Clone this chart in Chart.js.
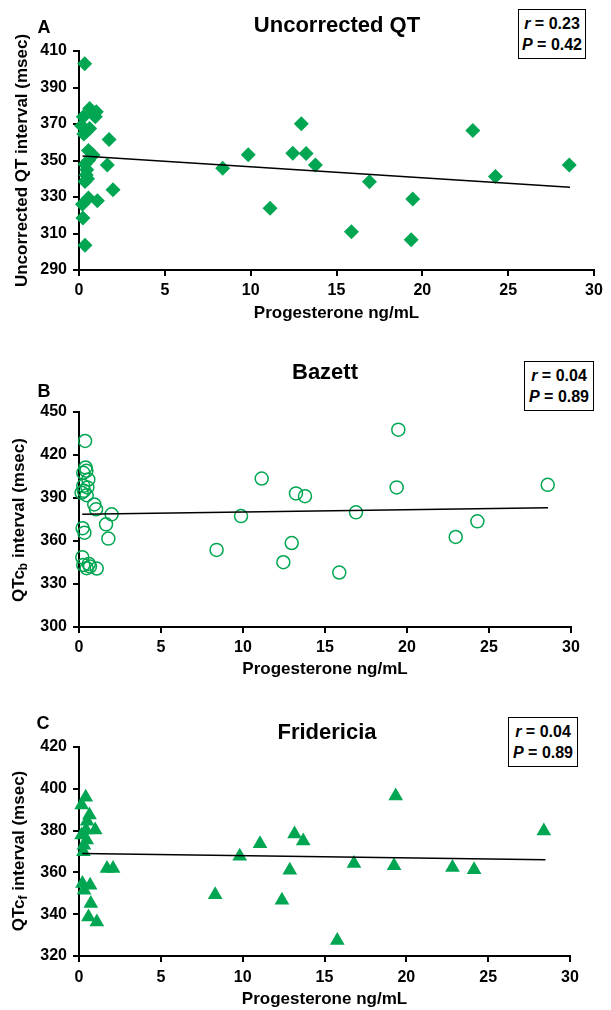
<!DOCTYPE html>
<html>
<head>
<meta charset="utf-8">
<script src="https://cdn.jsdelivr.net/npm/chart.js@4.4.1/dist/chart.umd.min.js"></script>
<style>
  body { margin: 0; background: #fff; font-family: "Liberation Sans", Arial, sans-serif; }
  #wrap { position: relative; width: 611px; height: 1010px; }
  canvas { position: absolute; left: 0; }
  .txt { position: absolute; font-weight: bold; color: #000; white-space: nowrap; z-index: 2; }
  .letter { font-size: 18px; transform: translate(-50%, -50%); }
  .ttl { font-size: 22px; transform: translate(-50%, -50%); }
  .box { position: absolute; border: 1.5px solid #000; box-sizing: border-box; font-weight: bold; font-size: 16px;
         line-height: 21px; text-align: center; display: flex; flex-direction: column; justify-content: center; z-index: 2; background: #fff; }
  .ytl { font-size: 17px; transform: translate(-50%, -50%) rotate(-90deg); }
  .ytl sub { font-size: 12px; vertical-align: -3px; }
</style>
</head>
<body>
<div id="wrap">
  <canvas id="cA" width="611" height="340" style="top:0"></canvas>
  <canvas id="cB" width="611" height="350" style="top:340px"></canvas>
  <canvas id="cC" width="611" height="320" style="top:690px"></canvas>

  <div class="txt letter" style="left:44px;top:27px">A</div>
  <div class="txt ttl" style="left:337px;top:25px">Uncorrected QT</div>
  <div class="box" style="left:518px;top:9px;width:68px;height:50px"><div><i>r</i> = 0.23</div><div><i>P</i> = 0.42</div></div>

  <div class="txt letter" style="left:44px;top:391px">B</div>
  <div class="txt ttl" style="left:325px;top:372px">Bazett</div>
  <div class="box" style="left:524px;top:361px;width:70px;height:50px"><div><i>r</i> = 0.04</div><div><i>P</i> = 0.89</div></div>
  <div class="txt ytl" style="left:19px;top:520px">QTc<sub>b</sub> interval (msec)</div>

  <div class="txt letter" style="left:43px;top:723px">C</div>
  <div class="txt ttl" style="left:327px;top:732px">Fridericia</div>
  <div class="box" style="left:508px;top:717px;width:70px;height:50px"><div><i>r</i> = 0.04</div><div><i>P</i> = 0.89</div></div>
  <div class="txt ytl" style="left:19px;top:851px">QTc<sub>f</sub> interval (msec)</div>
</div>
<script>
// progesterone (ng/mL) on x, interval (msec) on y
const progTicks = [0, 5, 10, 15, 20, 25, 30];
const qtTicks = [290, 310, 330, 350, 370, 390, 410];
const bazTicks = [300, 330, 360, 390, 420, 450];
const friTicks = [320, 340, 360, 380, 400, 420];

const qtX = [0.33, 0.62, 1.01, 0.95, 0.25, 0.15, 0.62, 0.45, 0.28, 1.75, 0.55, 0.82, 0.55, 0.35, 1.65, 0.45, 0.42, 0.5, 0.35, 1.98, 0.55, 1.07, 0.2, 0.23, 0.35,
             8.37, 9.86, 11.13, 12.45, 12.95, 13.23, 13.77, 15.87, 16.92, 19.35, 19.44, 22.94, 24.26, 28.56];
const qtY = [403, 378.5, 376.7, 374, 374, 369, 367.5, 366, 364.5, 361.5, 355.5, 353, 350, 348, 347.5, 345, 342, 340, 338.5, 334, 329.5, 328, 326, 318.5, 303.5,
             345.7, 353.1, 323.8, 354, 370.1, 353.9, 347.5, 311, 338.3, 306.6, 328.9, 366.4, 341.3, 347.5];
const qtFitX = [0.2, 28.6];
const qtFitY = [352.4, 335.3];

const bazX = [0.37, 0.4, 0.26, 0.45, 0.57, 0.26, 0.51, 0.16, 0.47, 0.3, 0.93, 1.04, 1.99, 1.65, 1.79, 0.22, 0.33, 0.2, 0.26, 0.67, 1.08, 0.47, 0.6,
              8.39, 9.88, 11.14, 12.46, 12.97, 13.23, 13.78, 15.87, 16.89, 19.47, 19.37, 22.97, 24.29, 28.58];
const bazY = [429.8, 411.3, 407.6, 409, 402.9, 398.5, 397.4, 393.7, 392, 395, 385.5, 382.1, 378.6, 371.6, 361.7, 368.9, 365.8, 348.7, 343.3, 342.2, 340.8, 341, 344,
              353.8, 377.4, 403.6, 345.2, 358.6, 393.2, 391.3, 338, 380, 437.7, 397.4, 362.8, 373.7, 399.2];
const bazFitX = [0.2, 28.6];
const bazFitY = [378.6, 383.2];

const friX = [0.41, 0.16, 0.64, 0.5, 0.43, 0.99, 0.16, 0.47, 0.3, 0.27, 1.71, 2.08, 0.21, 0.68, 0.31, 0.72, 0.58, 1.09,
              8.32, 9.82, 11.06, 12.4, 12.88, 13.17, 13.7, 15.78, 16.8, 19.35, 19.25, 22.82, 24.14, 28.4];
const friY = [396, 392.3, 387.5, 384.5, 380.3, 380.3, 377.9, 375.5, 373, 369.9, 361.9, 361.9, 354.7, 353.9, 351.5, 345.1, 338.7, 336.3,
              349.3, 367.7, 373.7, 346.7, 361, 378.4, 375, 327.4, 364.2, 396.6, 363.2, 362.3, 361.3, 379.8];
const friFitX = [0.2, 28.5];
const friFitY = [369.1, 366.1];

const GREEN = '#00a651';
Chart.defaults.font.family = '"Liberation Sans", Arial, sans-serif';
Chart.defaults.color = '#000';

function pts(xs, ys) { return xs.map((x, i) => ({ x: x, y: ys[i] })); }

function fromList(list) {
    return s => { s.ticks = list.map(v => ({ value: v })); };
}

function makePanel(id, p) {
    new Chart(document.getElementById(id), {
        type: 'scatter',
        data: { datasets: [
            { data: pts(p.fitX, p.fitY), showLine: true, borderColor: '#000', borderWidth: 1.5, pointRadius: 0, order: 0 },
            { data: pts(p.x, p.y), pointStyle: p.style, radius: p.r, backgroundColor: p.fill, borderColor: GREEN,
              borderWidth: p.bw, clip: false, order: 1 }
        ] },
        options: {
            responsive: false, animation: false,
            layout: { padding: p.pad },
            plugins: { legend: { display: false }, tooltip: { enabled: false } },
            scales: {
                x: {
                    type: 'linear', min: progTicks[0], max: progTicks[progTicks.length - 1],
                    afterBuildTicks: fromList(progTicks),
                    afterFit: s => { s.height = p.xH; },
                    grid: { drawOnChartArea: false, tickLength: 6, color: '#000', lineWidth: 2 },
                    border: { color: '#000', width: 2 },
                    ticks: { font: { size: 16, weight: 'bold' }, padding: p.xPad, maxRotation: 0, autoSkip: false },
                    title: { display: true, text: 'Progesterone ng/mL', font: { size: 17, weight: 'bold' }, padding: { top: 0, bottom: p.xTitlePad } }
                },
                y: {
                    type: 'linear', min: p.yTicks[0], max: p.yTicks[p.yTicks.length - 1],
                    afterBuildTicks: fromList(p.yTicks),
                    afterFit: s => { s.width = 79; },
                    grid: { drawOnChartArea: false, tickLength: 6, color: '#000', lineWidth: 2 },
                    border: { color: '#000', width: 2 },
                    ticks: { font: { size: 16, weight: 'bold' }, padding: 6, autoSkip: false },
                    title: { display: !!p.yTitle, text: p.yTitle || '', font: { size: 17, weight: 'bold' }, padding: { top: 12, bottom: 0 } }
                }
            }
        }
    });
}

makePanel('cA', { x: qtX, y: qtY, fitX: qtFitX, fitY: qtFitY, yTicks: qtTicks, style: 'rectRot', r: 7.5, fill: GREEN, bw: 0,
    pad: { top: 51, right: 17, left: 0, bottom: 0 }, xH: 70, xPad: 5, xTitlePad: 16, yTitle: 'Uncorrected QT interval (msec)' });
makePanel('cB', { x: bazX, y: bazY, fitX: bazFitX, fitY: bazFitY, yTicks: bazTicks, style: 'circle', r: 6.5, fill: 'rgba(0,0,0,0)', bw: 1.5,
    pad: { top: 72, right: 40, left: 0, bottom: 0 }, xH: 63, xPad: 5, xTitlePad: 10 });
makePanel('cC', { x: friX, y: friY, fitX: friFitX, fitY: friFitY, yTicks: friTicks, style: 'triangle', r: 8.5, fill: GREEN, bw: 0,
    pad: { top: 57, right: 41, left: 0, bottom: 0 }, xH: 54, xPad: 6, xTitlePad: 0 });
</script>
</body>
</html>
